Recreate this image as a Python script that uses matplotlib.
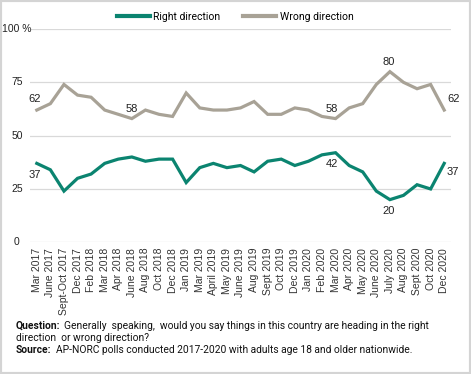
import matplotlib.pyplot as plt
from matplotlib.lines import Line2D
from matplotlib.patches import Rectangle
import matplotlib.transforms as mtransforms

months = ["Mar 2017", "June 2017", "Sept-Oct 2017", "Dec 2017", "Feb 2018",
          "Mar 2018", "Apr 2018", "June 2018", "Aug 2018", "Oct 2018",
          "Dec 2018", "Jan 2019", "Mar 2019", "April 2019", "May 2019",
          "June 2019", "Aug 2019", "Sept 2019", "Oct 2019", "Dec 2019",
          "Jan 2020", "Feb 2020", "Mar 2020", "Apr 2020", "May 2020",
          "June 2020", "July 2020", "Aug 2020", "Sept 2020", "Oct 2020",
          "Dec 2020"]
right_dir = [37, 34, 24, 30, 32, 37, 39, 40, 38, 39, 39, 28, 35, 37, 35,
             36, 33, 38, 39, 36, 38, 41, 42, 36, 33, 24, 20, 22, 27, 25, 37]
wrong_dir = [62, 65, 74, 69, 68, 62, 60, 58, 62, 60, 59, 70, 63, 62, 62,
             63, 66, 60, 60, 63, 62, 59, 58, 63, 65, 74, 80, 75, 72, 74, 62]
y_ticks = [0, 25, 50, 75, 100]
y_ticklabels = ["0", "25", "50", "75", "100 %"]

green = "#0b8470"
gray = "#a8a296"

fig = plt.figure(figsize=(4.71, 3.74), dpi=100)
ax = fig.add_axes([30 / 471, (374 - 242.3) / 374, 421 / 471, 213.3 / 374])

x = list(range(len(months)))
ax.plot(x, right_dir, color=green, lw=2.3, solid_joinstyle="miter")
ax.plot(x, wrong_dir, color=gray, lw=2.3, solid_joinstyle="miter")

ax.set_xlim(-0.5, len(months) - 0.5)
ax.set_ylim(0, 100)
for v in y_ticks:
    ax.axhline(v, color="#d9d9d9", lw=0.9, zorder=0)
for s in ax.spines.values():
    s.set_visible(False)

ax.set_yticks([])
trans = mtransforms.blended_transform_factory(fig.transFigure, ax.transData)
for v, lab in zip(y_ticks, y_ticklabels):
    ax.text(17 / 471, v, lab, transform=trans, ha="center", va="center",
            fontsize=7.5, family="Liberation Sans", color="#222222")

ax.set_xticks(x)
ax.set_xticklabels(months, rotation=90, fontsize=7.5, family="Liberation Sans",
                   color="#333333")
ax.tick_params(axis="x", length=0, pad=4)

# data labels
lab_kw = dict(fontsize=8, family="Liberation Sans", color="#222222")
ax.text(-0.15, wrong_dir[0] + 3, "62", ha="center", va="bottom", **lab_kw)
ax.text(7, wrong_dir[7] + 2, "58", ha="center", va="bottom", **lab_kw)
ax.text(21.7, wrong_dir[22] + 2, "58", ha="center", va="bottom", **lab_kw)
ax.text(25.9, wrong_dir[26] + 2, "80", ha="center", va="bottom", **lab_kw)
ax.text(30.2, wrong_dir[30] + 5, "62", ha="left", va="center", **lab_kw)
ax.text(-0.15, right_dir[0] - 3, "37", ha="center", va="top", **lab_kw)
ax.text(21.7, right_dir[22] - 3, "42", ha="center", va="top", **lab_kw)
ax.text(25.9, right_dir[26] - 3, "20", ha="center", va="top", **lab_kw)
ax.text(30.2, right_dir[30] - 4, "37", ha="left", va="center", **lab_kw)

handles = [Line2D([], [], color=green, lw=3), Line2D([], [], color=gray, lw=3)]
fig.legend(handles, ["Right direction", "Wrong direction"], loc="center",
           bbox_to_anchor=(235 / 471, 1 - 17 / 374), ncol=2, frameon=False,
           handlelength=3.2, handletextpad=0.3, columnspacing=2.2,
           prop={"family": "Roboto", "size": 7.5})

note_kw = dict(fontsize=7.4, family="Roboto", color="#111111", va="center")
fig.text(16 / 471, 1 - 326 / 374, "Question:", fontweight="bold", **note_kw)
fig.text(64 / 471, 1 - 326 / 374,
         "Generally  speaking,  would you say things in this country are heading in the right",
         **note_kw)
fig.text(16 / 471, 1 - 338 / 374, "direction  or wrong direction?", **note_kw)
fig.text(16 / 471, 1 - 350 / 374, "Source:", fontweight="bold", **note_kw)
fig.text(56 / 471, 1 - 350 / 374,
         "AP-NORC polls conducted 2017-2020 with adults age 18 and older nationwide.",
         **note_kw)

fig.patches.append(Rectangle((0, 0), 1, 1, transform=fig.transFigure, fill=False,
                             edgecolor="#d4d4d4", lw=3, zorder=10))

fig.savefig("out.png", dpi=100)
